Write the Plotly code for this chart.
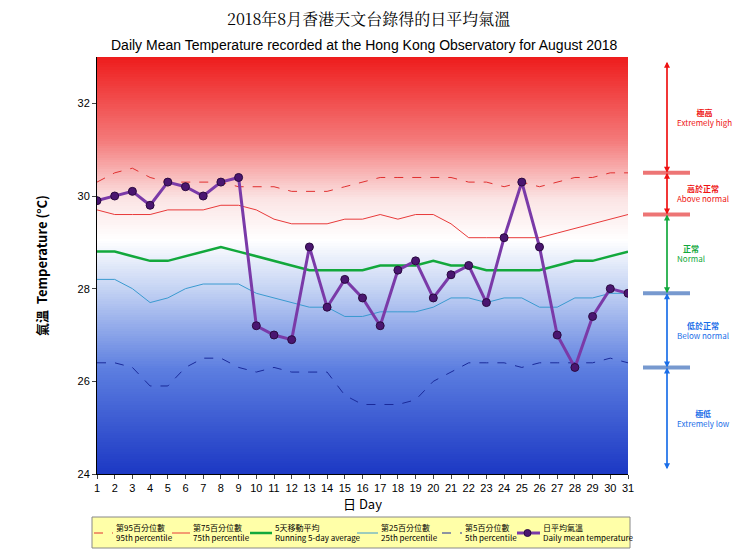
import plotly.graph_objects as go
import numpy as np

days = list(range(1, 32))
daily = [29.9,30.0,30.1,29.8,30.3,30.2,30.0,30.3,30.4,27.2,27.0,26.9,28.9,27.6,28.2,27.8,27.2,28.4,28.6,27.8,28.3,28.5,27.7,29.1,30.3,28.9,27.0,26.3,27.4,28.0,27.9]
p95 = [30.3,30.5,30.6,30.4,30.3,30.3,30.3,30.3,30.2,30.2,30.2,30.1,30.1,30.1,30.2,30.3,30.4,30.4,30.4,30.4,30.4,30.3,30.3,30.2,30.3,30.2,30.3,30.4,30.4,30.5,30.5]
p75 = [29.7,29.6,29.6,29.6,29.7,29.7,29.7,29.8,29.8,29.7,29.5,29.4,29.4,29.4,29.5,29.5,29.6,29.5,29.6,29.6,29.4,29.1,29.1,29.1,29.1,29.1,29.2,29.3,29.4,29.5,29.6]
avg5 = [28.8,28.8,28.7,28.6,28.6,28.7,28.8,28.9,28.8,28.7,28.6,28.5,28.4,28.4,28.4,28.4,28.5,28.5,28.5,28.6,28.5,28.5,28.4,28.4,28.4,28.4,28.5,28.6,28.6,28.7,28.8]
p25 = [28.2,28.2,28.0,27.7,27.8,28.0,28.1,28.1,28.1,27.9,27.8,27.7,27.6,27.6,27.4,27.4,27.5,27.5,27.5,27.6,27.8,27.8,27.7,27.8,27.8,27.6,27.6,27.8,27.8,27.9,27.9]
p5 = [26.4,26.4,26.3,25.9,25.9,26.3,26.5,26.5,26.3,26.2,26.3,26.2,26.2,26.2,25.7,25.5,25.5,25.5,25.6,26.0,26.2,26.4,26.4,26.4,26.3,26.4,26.4,26.4,26.4,26.5,26.4]
thresholds = [30.5, 29.6, 27.9, 26.3]
y_ticks = [24, 26, 28, 30, 32]

OFF = 8  # page body margin
FW, FH = 740 - OFF, 555 - OFF
L, T, W, H = 97 - OFF, 57 - OFF, 531, 417
PX = H / 9.0
def px(x): return (x - OFF - L) / W
def py(y): return (T + H - (y - OFF)) / H

fig = go.Figure()
ys = np.linspace(24, 33, 181)
fig.add_trace(go.Heatmap(x=[1, 31], y=ys, z=[[v, v] for v in ys], zmin=24, zmax=33,
    colorscale=[[0, '#1c38c4'], [0.25, '#5c7ee0'], [0.45, '#c8d6f4'], [0.56, '#ffffff'],
                [0.66, '#fbe4e4'], [0.8, '#f47a7a'], [1, '#ee1c1c']],
    showscale=False, hoverinfo='skip', showlegend=False))

series = [
    (p95, '第95百分位數', '95th percentile', '#e03030', 'dash', 1),
    (p75, '第75百分位數', '75th percentile', '#e83a3a', 'solid', 1),
    (avg5, '5天移動平均', 'Running 5-day average', '#12a83c', 'solid', 2.5),
    (p25, '第25百分位數', '25th percentile', '#3a9ad0', 'solid', 1),
    (p5, '第5百分位數', '5th percentile', '#1a2a9a', 'dash', 1),
]
for y, zh, en, c, d, w in series:
    fig.add_trace(go.Scatter(x=days, y=y, mode='lines', showlegend=False,
                             line=dict(color=c, dash=d, width=w)))
fig.add_trace(go.Scatter(x=days, y=daily, mode='lines+markers', showlegend=False,
    line=dict(color='#7a3aa8', width=3),
    marker=dict(size=8, color='#4a1670', line=dict(color='#2a0a40', width=1))))

# legend box
fig.add_shape(type='rect', xref='paper', yref='paper', x0=px(92), x1=px(630), y0=py(548), y1=py(517),
              fillcolor='#ffffa8', line=dict(color='#888', width=1), layer='above')
entries = series + [(None, '日平均氣溫', 'Daily mean temperature', '#7a3aa8', 'solid', 3)]
sym = [(92, 113), (170, 190), (248, 272), (355, 378), (440, 462), (515, 540)]
for (y, zh, en, c, d, w), (a, b) in zip(entries, sym):
    fig.add_shape(type='line', xref='paper', yref='paper', x0=px(a + 2), x1=px(b), y0=py(533), y1=py(533),
                  line=dict(color=c, dash=d, width=w), layer='above')
    if y is None:
        fig.add_shape(type='circle', xref='paper', yref='paper', x0=px(524), x1=px(531), y0=py(536.5), y1=py(529.5),
                      fillcolor='#4a1670', line=dict(color='#2a0a40', width=1), layer='above')
    fig.add_annotation(xref='paper', yref='paper', x=px(b + 1), y=py(532), xanchor='left', yanchor='middle',
                       text=f'{zh}<br>{en}', showarrow=False, align='left',
                       font=dict(size=8, family='Noto Sans CJK TC', color='black'))

bands = [(33, 30.5, '#ee1111', '極高', 'Extremely high'),
         (30.5, 29.6, '#ee1111', '高於正常', 'Above normal'),
         (29.6, 27.9, '#12a83c', '正常', 'Normal'),
         (27.9, 26.3, '#1a6ee8', '低於正常', 'Below normal'),
         (26.3, 24, '#1a6ee8', '極低', 'Extremely low')]
ax = px(667)
for i, th in enumerate(thresholds):
    c = '#e84848' if i < 2 else '#4a78c0'
    fig.add_shape(type='line', xref='paper', yref='y', x0=px(643), x1=px(690), y0=th, y1=th,
                  line=dict(color=c, width=4), opacity=0.75)
for top, bot, col, zh, en in bands:
    t = min(top, 32.9); b = max(bot, 24.1)
    for a, s in [(t, b), (b, t)]:
        fig.add_annotation(xref='paper', yref='y', x=ax, y=a, ax=0, ay=-(s - a) * PX,
                           axref='pixel', ayref='pixel',
                           text='', showarrow=True, arrowhead=2, arrowsize=1, arrowwidth=1.2, arrowcolor=col)
    fig.add_annotation(xref='paper', yref='y', x=px(675), xanchor='left', y=(t + b) / 2,
                       text=f'<b>{zh}</b><br>{en}', showarrow=False, align='center',
                       font=dict(size=8, color=col, family='Liberation Sans Narrow, Noto Sans CJK TC'))

fig.add_annotation(xref='paper', yref='paper', x=px(368), y=py(19), xanchor='center', yanchor='middle',
                   text='2018年8月香港天文台錄得的日平均氣溫', showarrow=False,
                   font=dict(size=16, color='black', family='Noto Serif CJK TC, Noto Sans CJK TC'))
fig.add_annotation(xref='paper', yref='paper', x=px(364), y=py(45), xanchor='center', yanchor='middle',
                   text='Daily Mean Temperature recorded at the Hong Kong Observatory for August 2018',
                   showarrow=False, font=dict(size=14, color='black', family='Liberation Sans Narrow, Liberation Sans'))

fig.update_layout(
    width=FW, height=FH, margin=dict(l=L, r=FW - L - W, t=T, b=FH - T - H, autoexpand=False),
    paper_bgcolor='white', plot_bgcolor='white', showlegend=False,
    font=dict(family='Liberation Sans', color='black'),
    xaxis=dict(range=[1, 31], tickvals=days, ticks='outside', ticklen=4, showgrid=False,
               showline=True, linecolor='black', tickfont=dict(size=11),
               title=dict(text='日 Day', font=dict(size=13, family='Noto Sans CJK TC'), standoff=4)),
    yaxis=dict(range=[24, 33], tickvals=y_ticks, ticks='outside', ticklen=4, showgrid=False,
               showline=True, linecolor='black', tickfont=dict(size=11),
               title=dict(text='<b>氣溫  Temperature (°C)</b>', font=dict(size=13, family='Noto Sans CJK TC'), standoff=26)),
)
fig.write_html('out.html')
